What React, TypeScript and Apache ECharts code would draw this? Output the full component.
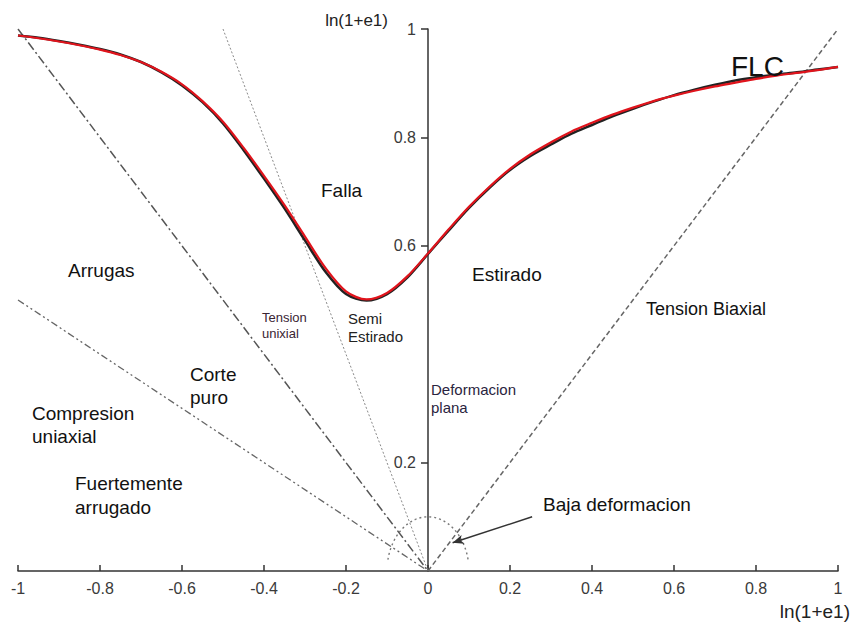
import React, { useEffect, useRef } from "react";
import * as echarts from "echarts";

// Forming limit curve (red fit) and measured curve (black), sampled every 0.05
const flcX = [
  -1, -0.95, -0.9, -0.85, -0.8, -0.75, -0.7, -0.65, -0.6, -0.55, -0.5, -0.45, -0.4, -0.35, -0.3, -0.25, -0.2, -0.15, -0.1, -0.05,
  0, 0.05, 0.1, 0.15, 0.2, 0.25, 0.3, 0.35, 0.4, 0.45, 0.5, 0.55, 0.6, 0.65, 0.7, 0.75, 0.8, 0.85, 0.9, 0.95, 1,
];
const flcRed = [
  0.988, 0.983, 0.977, 0.97, 0.962, 0.952, 0.939, 0.921, 0.898, 0.867, 0.829, 0.781, 0.729, 0.675, 0.617, 0.559, 0.516, 0.501, 0.513, 0.544,
  0.586, 0.63, 0.672, 0.709, 0.742, 0.769, 0.791, 0.811, 0.827, 0.842, 0.855, 0.867, 0.877, 0.886, 0.894, 0.901, 0.908, 0.914, 0.919, 0.924, 0.93,
];
const flcBlack = [
  0.988, 0.984, 0.978, 0.971, 0.963, 0.953, 0.939, 0.92, 0.896, 0.865, 0.826, 0.777, 0.724, 0.669, 0.61, 0.552, 0.511, 0.499, 0.511, 0.542,
  0.585, 0.628, 0.67, 0.707, 0.74, 0.766, 0.787, 0.807, 0.823, 0.839, 0.853, 0.866, 0.878, 0.888, 0.897, 0.905, 0.911, 0.916, 0.92, 0.925, 0.93,
];

// Strain path reference lines (endpoints)
const pureShear = [[-1, 1], [0, 0]];
const uniaxialTension = [[-0.5, 1], [0, 0]];
const uniaxialCompression = [[-1, 0.5], [0, 0]];
const biaxialTension = [[0, 0], [1, 1]];

// Low strain zone: centre and radius
const lowStrainZone = [[0, 0, 0.1]];

// Arrow pointing to low strain zone
const arrowStart = [0.254, 0.1];
const arrowEnd = [0.06, 0.052];

// Axis ticks
const xTicks = [-1, -0.8, -0.6, -0.4, -0.2, 0, 0.2, 0.4, 0.6, 0.8, 1];
const yTicks = [0.2, 0.6, 0.8, 1];

const FONT = '"Liberation Sans", Arial, sans-serif';

type Lbl = { t: string; x: number; y: number; size: number; lh?: number; color?: string };
const labels: Lbl[] = [
  { t: "FLC", x: 731, y: 66, size: 28 },
  { t: "Falla", x: 321, y: 190, size: 19 },
  { t: "Arrugas", x: 68, y: 270, size: 19 },
  { t: "Estirado", x: 472, y: 274, size: 19 },
  { t: "Tension Biaxial", x: 646, y: 309, size: 18 },
  { t: "Tension\nunixial", x: 262, y: 317, size: 13, lh: 16, color: "#3a2533" },
  { t: "Semi\nEstirado", x: 348, y: 318, size: 15, lh: 18, color: "#222" },
  { t: "Corte\npuro", x: 190, y: 374, size: 19, lh: 23 },
  { t: "Compresion\nuniaxial", x: 32, y: 413, size: 19, lh: 23 },
  { t: "Fuertemente\narrugado", x: 75, y: 483, size: 19, lh: 24 },
  { t: "Deformacion\nplana", x: 431, y: 389, size: 15, lh: 18, color: "#2a2440" },
  { t: "Baja deformacion", x: 543, y: 504, size: 19 },
];

const GRID_LEFT = 18;
const GRID_RIGHT = 14;
const CHART_W = 852;

export default function App() {
  const ref = useRef<HTMLDivElement>(null);
  useEffect(() => {
    if (!ref.current) return;
    const chart = echarts.init(ref.current, null, { renderer: "svg" });
    const refLine = (data: number[][], type: any, color: string, width: number, extra: any = {}) => ({
      type: "line",
      data,
      symbol: "none",
      silent: true,
      lineStyle: { color, width, type },
      z: 2,
      ...extra,
    });
    // y axis sits on x = 0: offset it inward from the grid's left edge
    const plotW = CHART_W - GRID_LEFT - GRID_RIGHT;
    const yOffset = -plotW / 2;
    chart.setOption({
      animation: false,
      backgroundColor: "#ffffff",
      grid: { left: GRID_LEFT, right: GRID_RIGHT, top: 29, bottom: 52, containLabel: false, outerBoundsMode: "none" },
      xAxis: {
        type: "value",
        min: -1,
        max: 1,
        interval: 0.2,
        name: "ln(1+e1)",
        nameLocation: "end",
        nameGap: 12,
        nameTextStyle: {
          fontFamily: FONT,
          fontSize: 19,
          color: "#222",
          align: "right",
          verticalAlign: "top",
          padding: [31, 0, 0, 0],
        },
        axisLine: { onZero: false, lineStyle: { color: "#333", width: 1.5 } },
        axisTick: { inside: true, length: 6, lineStyle: { color: "#333", width: 1.5 }, customValues: xTicks },
        axisLabel: { margin: 9, fontFamily: FONT, fontSize: 16, color: "#3a3a3a", customValues: xTicks },
        splitLine: { show: false },
      },
      yAxis: {
        type: "value",
        min: 0,
        max: 1,
        interval: 0.2,
        position: "left",
        offset: yOffset,
        name: "ln(1+e1)",
        nameLocation: "end",
        nameGap: 9,
        nameTextStyle: {
          fontFamily: FONT,
          fontSize: 17,
          color: "#222",
          align: "right",
          verticalAlign: "middle",
          padding: [0, 40, 0, 0],
        },
        axisLine: { onZero: false, lineStyle: { color: "#333", width: 1.5 } },
        axisTick: { inside: false, length: 7, lineStyle: { color: "#333", width: 1.5 }, customValues: yTicks },
        axisLabel: { margin: 12, fontFamily: FONT, fontSize: 16, color: "#3a3a3a", customValues: yTicks },
        splitLine: { show: false },
      },
      series: [
        refLine(pureShear, [9, 3, 2, 3], "#555", 1.5),
        refLine(uniaxialTension, [2, 2], "#8a8a8a", 1),
        refLine(uniaxialCompression, [7, 3, 2, 3, 2, 3], "#666", 1.3),
        refLine(biaxialTension, [5, 3], "#666", 1.5, {
          markLine: {
            silent: true,
            symbol: ["none", "arrow"],
            symbolSize: [7, 11],
            label: { show: false },
            lineStyle: { color: "#333", width: 1.5, type: "solid" },
            data: [[{ coord: arrowStart }, { coord: arrowEnd }]],
          },
        }),
        {
          type: "custom",
          coordinateSystem: "cartesian2d",
          data: lowStrainZone,
          silent: true,
          z: 2,
          renderItem: (params: any, api: any) => {
            const c = api.coord([api.value(0), api.value(1)]);
            const s = api.size([api.value(2), api.value(2)]);
            const rx = s[0];
            const ry = s[1];
            const a0 = (168 * Math.PI) / 180;
            const a1 = (12 * Math.PI) / 180;
            const x1 = c[0] + rx * Math.cos(a0);
            const y1 = c[1] - ry * Math.sin(a0);
            const x2 = c[0] + rx * Math.cos(a1);
            const y2 = c[1] - ry * Math.sin(a1);
            return {
              type: "path",
              shape: { pathData: `M ${x1} ${y1} A ${rx} ${ry} 0 0 1 ${x2} ${y2}` },
              style: { fill: "none", stroke: "#777", lineWidth: 1.4, lineDash: [2, 3] },
            };
          },
        },
        {
          type: "line",
          data: flcX.map((x, i) => [x, flcBlack[i]]),
          symbol: "none",
          smooth: 0.3,
          silent: true,
          lineStyle: { color: "#222", width: 2.6 },
          z: 3,
        },
        {
          type: "line",
          data: flcX.map((x, i) => [x, flcRed[i]]),
          symbol: "none",
          smooth: 0.3,
          silent: true,
          lineStyle: { color: "#e0141c", width: 2.2 },
          z: 4,
        },
      ],
      graphic: labels.map((l) => {
        const lh = l.lh ?? l.size * 1.2;
        return {
          type: "text",
          silent: true,
          z: 10,
          style: {
            text: l.t,
            x: l.x,
            y: l.y - lh / 2,
            fill: l.color ?? "#111",
            font: `${l.size}px ${FONT}`,
            lineHeight: lh,
            align: "left",
            verticalAlign: "top",
          },
        };
      }),
    });
    return () => chart.dispose();
  }, []);
  return (
    <div
      ref={ref}
      style={{ position: "absolute", left: 0, top: 0, width: 852, height: 623, background: "#fff" }}
    />
  );
}
